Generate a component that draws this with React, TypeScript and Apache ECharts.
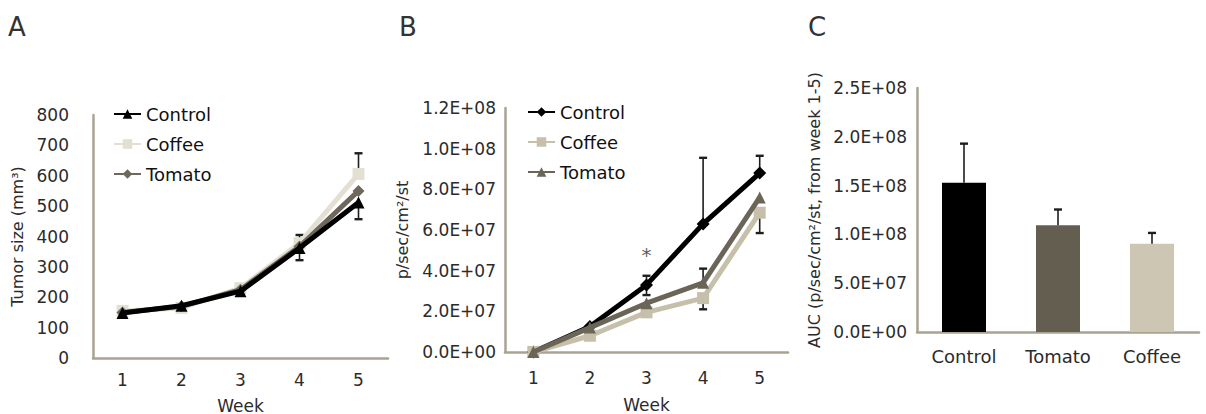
import React, { useEffect, useRef } from "react";
import * as echarts from "echarts";

// ---------- data ----------
const weeks = ["1", "2", "3", "4", "5"];
const groupNames = ["Control", "Coffee", "Tomato"];

// Panel A: tumor size (mm³)
const tumorControl = [148, 172, 220, 362, 512];
const tumorCoffee = [155, 165, 230, 378, 606];
const tumorTomato = [150, 170, 225, 367, 550];
const tumorControlErrUp = [null, null, null, 43, null];
const tumorControlErrDown = [null, null, null, 40, 55];
const tumorCoffeeErrUp = [null, null, null, null, 68];
const tumorTicks = { min: 0, max: 800, interval: 100 };

// Panel B: p/sec/cm²/st
const bliControl = [0, 12.5e6, 33e6, 63e6, 88e6];
const bliCoffee = [0, 8e6, 19.5e6, 26.5e6, 68.5e6];
const bliTomato = [0, 12e6, 24e6, 34e6, 76e6];
const bliControlErrUp = [null, null, 4.5e6, 32.5e6, 8.5e6];
const bliControlErrDown = [null, null, 5e6, null, null];
const bliCoffeeErrDown = [null, null, null, 5.5e6, 10e6];
const bliTomatoErrUp = [null, null, null, 7e6, null];
const bliStarLevel = [null, null, 4.75e7, null, null];
const bliTicks = { min: 0, max: 1.2e8, interval: 2e7 };

// Panel C: AUC
const aucGroups = ["Control", "Tomato", "Coffee"];
const aucValues = [153e6, 109.5e6, 90.5e6];
const aucErrUp = [40e6, 16e6, 11e6];
const aucTicks = { min: 0, max: 2.5e8, interval: 5e7 };

// ---------- styles ----------
const FONT = "'DejaVu Sans', 'Open Sans', sans-serif";
const AXIS_COLOR = "#a9a391";
const TEXT_COLOR = "#2b2b2b";
const BLACK = "#000000";
const A_COFFEE = "#e3e0d3";
const A_TOMATO = "#6e685c";
const B_COFFEE = "#c6c0ab";
const B_TOMATO = "#6b6558";
const C_TOMATO = "#645e51";
const C_COFFEE = "#ccc6b2";
const ERR_COLOR = "#1e1e1e";

const sci = (v: number) => {
  if (v === 0) return "0.0E+00";
  const [m, e] = v.toExponential(1).split("e");
  const n = parseInt(e, 10);
  const sign = n < 0 ? "-" : "+";
  const ab = Math.abs(n);
  return `${m}E${sign}${ab < 10 ? "0" + ab : ab}`;
};

function errData(vals: number[], up?: (number | null)[], down?: (number | null)[]) {
  const out: number[][] = [];
  vals.forEach((v, i) => {
    const u = up ? up[i] : null;
    const d = down ? down[i] : null;
    if (u == null && d == null) return;
    out.push([i, v - (d ?? 0), v + (u ?? 0), d != null ? 1 : 0, u != null ? 1 : 0]);
  });
  return out;
}

function errSeries(data: number[][], z: number) {
  return {
    type: "custom",
    z,
    silent: true,
    data,
    renderItem: (_p: any, api: any) => {
      const x = api.value(0);
      const lo = api.coord([x, api.value(1)]);
      const hi = api.coord([x, api.value(2)]);
      const cap = 4;
      const st = { stroke: ERR_COLOR, lineWidth: 1.6 };
      const children: any[] = [
        { type: "line", shape: { x1: lo[0], y1: lo[1], x2: hi[0], y2: hi[1] }, style: st },
      ];
      if (api.value(3))
        children.push({ type: "line", shape: { x1: lo[0] - cap, y1: lo[1], x2: lo[0] + cap, y2: lo[1] }, style: { ...st, lineWidth: 2.4 } });
      if (api.value(4))
        children.push({ type: "line", shape: { x1: hi[0] - cap, y1: hi[1], x2: hi[0] + cap, y2: hi[1] }, style: { ...st, lineWidth: 2.4 } });
      return { type: "group", children };
    },
  };
}

function lineSeries(name: string, data: number[], color: string, symbol: string, z: number, size = 12) {
  return {
    type: "line",
    name,
    data,
    z,
    symbol,
    symbolSize: size,
    color,
    lineStyle: { color, width: 5 },
    itemStyle: { color },
  };
}

const axisLine = { show: true, lineStyle: { color: AXIS_COLOR, width: 2.5 } };

function catAxis(data: string[], name: string, margin: number, nameGap: number, fontSize = 17) {
  return {
    type: "category",
    data,
    boundaryGap: true,
    axisLine,
    axisTick: { show: false },
    axisLabel: { fontSize, color: TEXT_COLOR, fontFamily: FONT, margin },
    name,
    nameLocation: "middle",
    nameGap,
    nameTextStyle: { fontSize: 17, color: TEXT_COLOR, fontFamily: FONT },
  };
}

function valAxis(t: any, name: string, nameGap: number, margin: number, fmt?: (v: number) => string) {
  return {
    type: "value",
    min: t.min,
    max: t.max,
    interval: t.interval,
    axisLine,
    axisTick: { show: false },
    splitLine: { show: false },
    axisLabel: { fontSize: 17, color: TEXT_COLOR, fontFamily: FONT, margin, formatter: fmt },
    name,
    nameLocation: "middle",
    nameGap,
    nameRotate: 90,
    nameTextStyle: { fontSize: 16, color: TEXT_COLOR, fontFamily: FONT },
  };
}

function panelTitle(text: string, left: number) {
  return {
    type: "text",
    left,
    top: 14,
    style: { text, fontSize: 26, fill: "#333", fontFamily: FONT },
  };
}

function legend(left: number, top: number) {
  return {
    orient: "vertical",
    left,
    top,
    data: groupNames,
    itemWidth: 27,
    itemHeight: 12,
    itemGap: 10,
    textStyle: { fontSize: 18, lineHeight: 20, color: "#111", fontFamily: FONT },
  };
}

// panel offsets on the page
const A_LEFT = 0;
const B_LEFT = 390;
const C_LEFT = 796;

const optionA = {
  animation: false,
  textStyle: { fontFamily: FONT },
  graphic: [panelTitle("A", 8)],
  legend: legend(108, 99),
  grid: { left: 93, top: 115, width: 295, height: 243, outerBoundsMode: "none" },
  xAxis: catAxis(weeks, "Week", 13, 39),
  yAxis: valAxis(tumorTicks, "Tumor size (mm³)", 66, 24),
  series: [
    errSeries(errData(tumorControl, tumorControlErrUp, tumorControlErrDown), 1),
    errSeries(errData(tumorCoffee, tumorCoffeeErrUp), 1),
    lineSeries("Coffee", tumorCoffee, A_COFFEE, "rect", 2),
    lineSeries("Tomato", tumorTomato, A_TOMATO, "diamond", 3),
    lineSeries("Control", tumorControl, BLACK, "triangle", 4),
  ],
};

const optionB = {
  animation: false,
  textStyle: { fontFamily: FONT },
  graphic: [panelTitle("B", 9)],
  legend: legend(132, 97),
  grid: { left: 115, top: 108, width: 283, height: 244, outerBoundsMode: "none" },
  xAxis: catAxis(weeks, "Week", 17, 44),
  yAxis: valAxis(bliTicks, "p/sec/cm²/st", 95, 9, sci),
  series: [
    errSeries(errData(bliControl, bliControlErrUp, bliControlErrDown), 1),
    errSeries(errData(bliCoffee, undefined, bliCoffeeErrDown), 1),
    errSeries(errData(bliTomato, bliTomatoErrUp), 1),
    lineSeries("Control", bliControl, BLACK, "diamond", 2, 13),
    lineSeries("Coffee", bliCoffee, B_COFFEE, "rect", 3),
    lineSeries("Tomato", bliTomato, B_TOMATO, "triangle", 4),
    {
      type: "scatter",
      z: 5,
      silent: true,
      symbolSize: 1,
      itemStyle: { color: "rgba(0,0,0,0)" },
      data: bliStarLevel,
      label: { show: true, position: "inside", formatter: "*", fontSize: 20, color: "#333", fontFamily: FONT },
    },
  ],
};

const optionC = {
  animation: false,
  textStyle: { fontFamily: FONT },
  graphic: [panelTitle("C", 12)],
  grid: { left: 121, top: 88, width: 282, height: 244, outerBoundsMode: "none" },
  xAxis: { ...catAxis(aucGroups, "", 15, 40, 18), name: "" },
  yAxis: valAxis(aucTicks, "AUC (p/sec/cm²/st, from week 1-5)", 88, 10, sci),
  series: [
    {
      type: "bar",
      barWidth: 44,
      data: aucValues.map((v, i) => ({
        value: v,
        itemStyle: { color: [BLACK, C_TOMATO, C_COFFEE][i] },
      })),
    },
    errSeries(errData(aucValues, aucErrUp), 3),
  ],
};

function Panel({ option, left, width }: { option: any; left: number; width: number }) {
  const ref = useRef<HTMLDivElement>(null);
  useEffect(() => {
    if (!ref.current) return;
    const chart = echarts.init(ref.current, undefined, { renderer: "svg" });
    chart.setOption(option);
    return () => chart.dispose();
  }, [option]);
  return (
    <div
      ref={ref}
      style={{ position: "absolute", left, top: 0, width, height: 414 }}
    />
  );
}

export default function App() {
  return (
    <div style={{ position: "fixed", left: 0, top: 0, width: 1206, height: 414, background: "#fff" }}>
      <Panel option={optionA} left={A_LEFT} width={B_LEFT - A_LEFT} />
      <Panel option={optionB} left={B_LEFT} width={C_LEFT - B_LEFT} />
      <Panel option={optionC} left={C_LEFT} width={1206 - C_LEFT} />
    </div>
  );
}
